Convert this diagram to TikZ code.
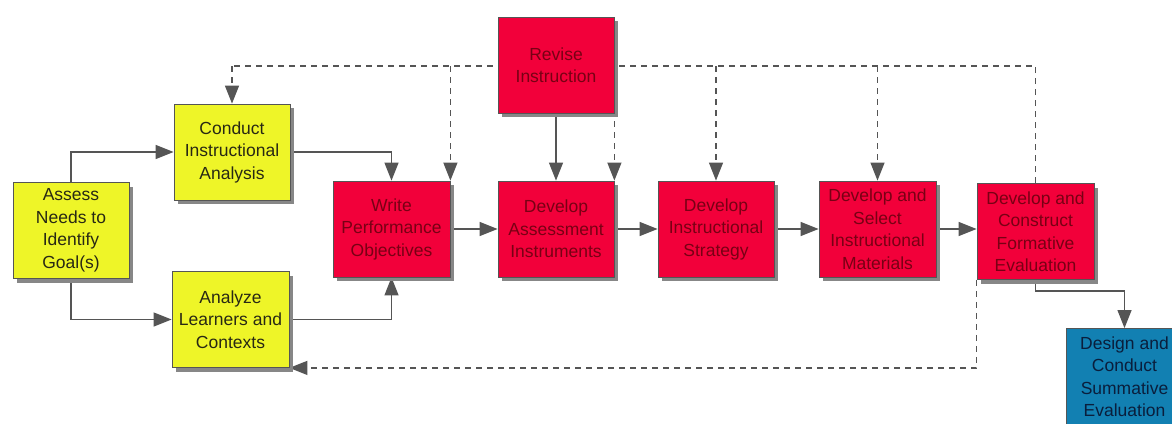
\documentclass[tikz,border=0pt]{standalone}
\usepackage{fontspec}
\setmainfont{Liberation Sans}
\usetikzlibrary{arrows.meta,shadows}
\pgfdeclarelayer{canvas}
\pgfdeclarelayer{background}
\pgfsetlayers{canvas,background,main}

\definecolor{boxyellow}{RGB}{238,245,40}
\definecolor{boxred}{RGB}{242,0,58}
\definecolor{boxblue}{RGB}{18,128,178}
\definecolor{txtyellow}{RGB}{40,40,20}
\definecolor{txtred}{RGB}{120,0,20}
\definecolor{txtblue}{RGB}{10,30,60}
\definecolor{linegray}{RGB}{85,85,85}
\definecolor{shadowgray}{RGB}{135,135,135}

\tikzset{
  stage/.style={rectangle, draw=linegray, line width=0.8pt,
    minimum width=116pt, minimum height=96pt, inner sep=0pt,
    align=center, font=\fontsize{17.5}{22.5}\selectfont,
    drop shadow={shadow xshift=4pt, shadow yshift=-4pt, fill=shadowgray, opacity=1}},
  yellowstage/.style={stage, fill=boxyellow, text=txtyellow},
  redstage/.style={stage, fill=boxred, text=txtred},
  bluestage/.style={stage, fill=boxblue, text=txtblue},
  bigtip/.tip={Triangle[length=18pt,width=14pt]},
  flow/.style={draw=linegray, line width=1.2pt, -bigtip},
  feedback/.style={draw=linegray, line width=1.2pt, dash pattern=on 6pt off 5pt},
  feedbackarr/.style={feedback, -bigtip},
}

\begin{document}
\begin{tikzpicture}[x=1pt,y=-1pt]
\clip (0,0) rectangle (1172,423);
\begin{pgfonlayer}{canvas}
  \fill[white] (0,0) rectangle (1172,423);
\end{pgfonlayer}

% process stages
\node[yellowstage] (assess)   at (71,230.5)  {Assess\\Needs to\\Identify\\Goal(s)};
\node[yellowstage] (conduct)  at (232,152)   {Conduct\\Instructional\\Analysis};
\node[yellowstage, minimum width=117pt] (analyze) at (230.5,319.5) {Analyze\\Learners and\\Contexts};
\node[redstage, minimum width=117pt] (write) at (391.5,229) {Write\\Performance\\Objectives};
\node[redstage] (revise)    at (556,65)    {Revise\\Instruction};
\node[redstage] (assessdev) at (556,229)   {Develop\\Assessment\\Instruments};
\node[redstage] (strategy)  at (716,229)   {Develop\\Instructional\\Strategy};
\node[redstage, minimum width=117pt] (materials) at (877.5,229) {Develop and\\Select\\Instructional\\Materials};
\node[redstage, minimum width=117pt] (formative) at (1035.5,231.5) {Develop and\\Construct\\Formative\\Evaluation};
\node[bluestage, minimum width=117pt] (summative) at (1124.5,376.5) {Design and\\Conduct\\Summative\\Evaluation};

\coordinate (topline) at (0,66);

\begin{pgfonlayer}{background}
  % main sequence
  \draw[flow] (assess.north) |- (conduct.west);
  \draw[flow] (assess.south) |- (analyze.west);
  \draw[flow] (conduct.east) -| (write.north);
  \draw[flow] (analyze.east) -| (write.south);
  \draw[flow] (write.east) -- (assessdev.west);
  \draw[flow] (assessdev.east) -- (strategy.west);
  \draw[flow] (strategy.east) -- (materials.west);
  \draw[flow] (materials.east) -- (materials.east -| formative.west);
  \draw[flow] (revise.south) -- (assessdev.north);
  \draw[flow] (formative.south) -- ++(0,11) -| (summative.north);

  % revision feedback
  \draw[feedback] (formative.north) -- (formative.north |- topline)
                  -- (conduct.north |- topline);
  \draw[feedbackarr] (conduct.north |- topline) -- (conduct.north);
  \draw[feedbackarr] (write.north east |- topline) -- (write.north east);
  \draw[feedbackarr] (assessdev.north east |- topline) -- (assessdev.north east);
  \draw[feedbackarr] (strategy.north |- topline) -- (strategy.north);
  \draw[feedbackarr] (materials.north |- topline) -- (materials.north);
  \draw[feedbackarr] (formative.south west) |- (analyze.south east);
\end{pgfonlayer}
\end{tikzpicture}
\end{document}
